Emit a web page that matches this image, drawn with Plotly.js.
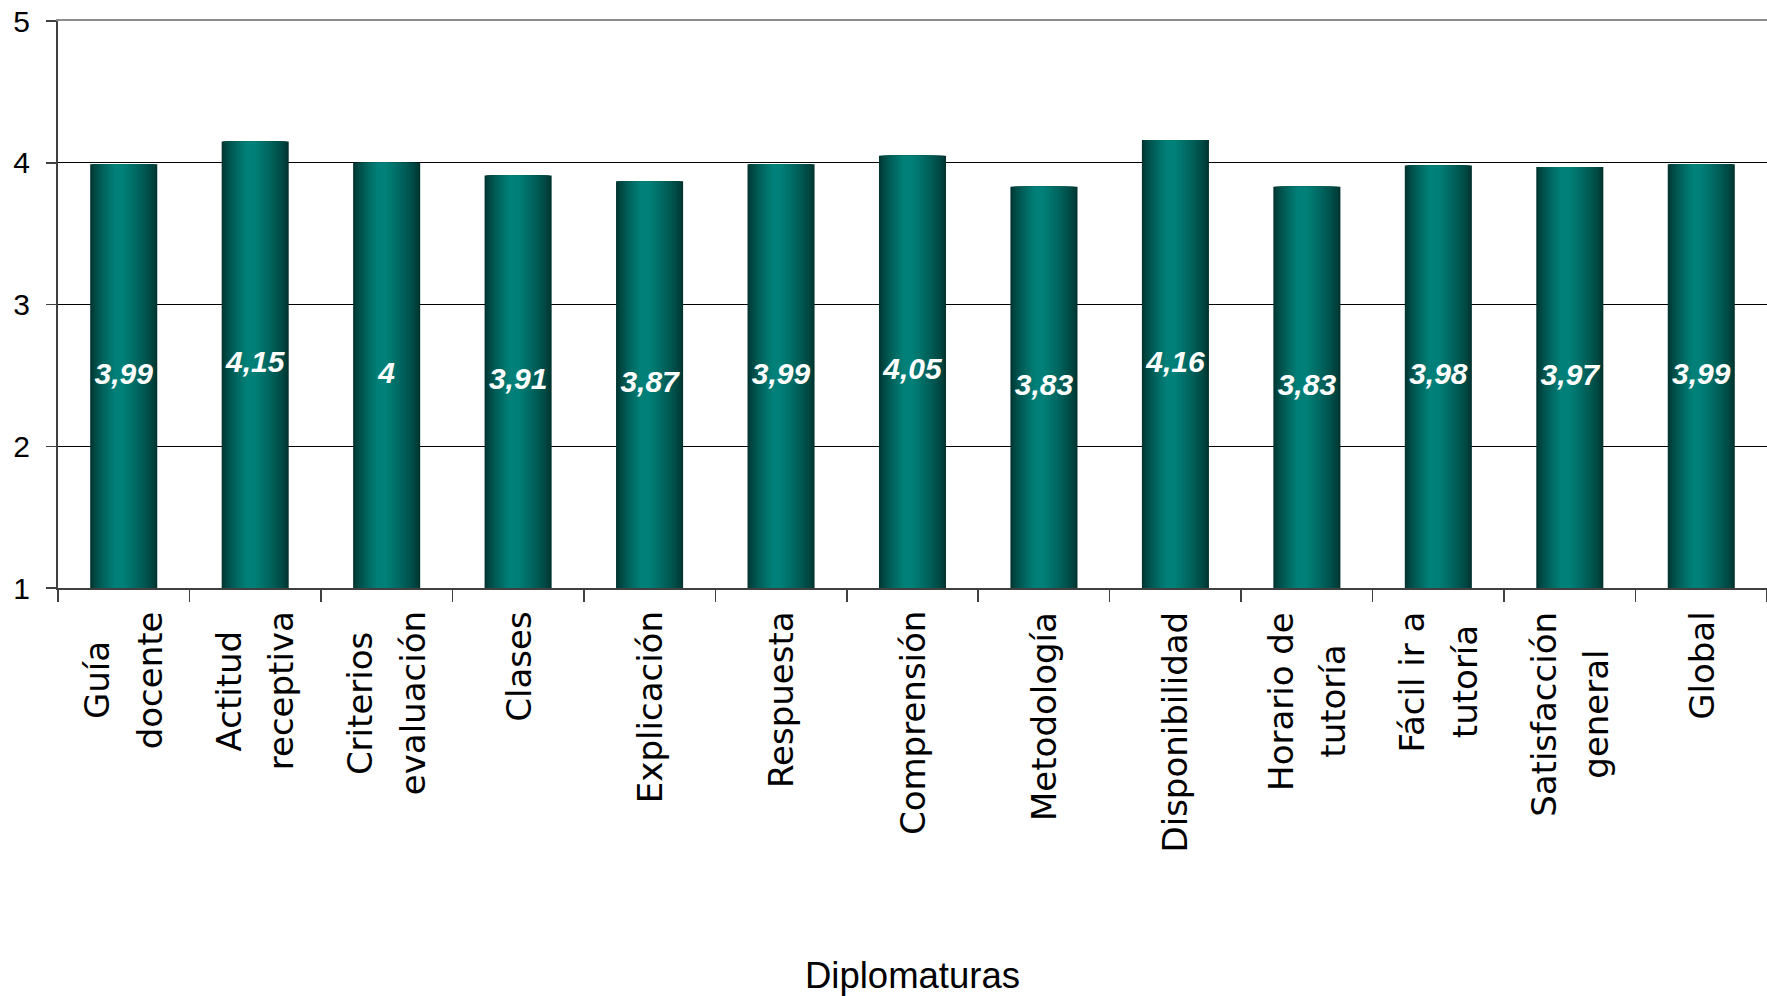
<!DOCTYPE html>
<html>
<head>
<meta charset="utf-8">
<script src="https://cdn.plot.ly/plotly-3.0.1.min.js"></script>
<style>html,body{margin:0;padding:0;background:#fff;}#chart{width:1767px;height:996px;}</style>
</head>
<body>
<div id="chart"></div>
<script>
// ---- data ----
const categories = ["Guía<br>docente", "Actitud<br>receptiva", "Criterios<br>evaluación", "Clases", "Explicación", "Respuesta", "Comprensión", "Metodología", "Disponibilidad", "Horario de<br>tutoría", "Fácil ir a<br>tutoría", "Satisfacción<br>general", "Global"];
const values = [3.99, 4.15, 4, 3.91, 3.87, 3.99, 4.05, 3.83, 4.16, 3.83, 3.98, 3.97, 3.99];
const yTickValues = [1, 2, 3, 4, 5];
const yTickLabels = ["1", "2", "3", "4", "5"];
const axisTitle = "Diplomaturas";

// ---- styling helpers ----
const valueText = values.map(v => String(v).replace('.', ','));
const barWidth = 0.51;
const edgeColor = [0, 52, 48];
const centerColor = [0, 128, 120];
const peak = 0.42;
const layers = 20;

const traces = [];
for (let k = 0; k < layers; k++) {
  const t = (k / layers) * 0.95;
  const left = peak * t;
  const right = 1 - (1 - peak) * t;
  const s = Math.min(1, t / 0.85);
  const e = Math.pow(s, 0.75);
  const c = edgeColor.map((ec, i) => Math.round(ec + (centerColor[i] - ec) * e));
  traces.push({
    type: 'bar',
    x: categories,
    y: values,
    width: barWidth * (right - left),
    offset: -barWidth / 2 + barWidth * left,
    marker: {color: 'rgb(' + c.join(',') + ')', line: {width: 0}},
    showlegend: false,
    hoverinfo: k === 0 ? 'y' : 'skip',
    name: 'Diplomaturas'
  });
}

// value labels in the middle of the visible part of each bar
traces.push({
  type: 'scatter',
  mode: 'text',
  x: categories,
  y: values.map(v => (v + yTickValues[0]) / 2),
  text: valueText,
  textposition: 'middle center',
  textfont: {family: 'Liberation Sans, Arial, sans-serif', size: 30, color: '#ffffff', weight: 'bold', style: 'italic'},
  showlegend: false,
  hoverinfo: 'skip',
  cliponaxis: false
});

// category labels: rotated, one annotation per line, lines centred on each other
const labelFontSize = 34;
const labelFont = 'DejaVu Sans';
const lineGap = 52;
const ctx = document.createElement('canvas').getContext('2d');
ctx.font = labelFontSize + 'px "' + labelFont + '"';
const annotations = [];
categories.forEach(cat => {
  const lines = cat.split('<br>');
  const widths = lines.map(l => ctx.measureText(l).width);
  const maxW = Math.max.apply(null, widths);
  lines.forEach((line, i) => {
    annotations.push({
      x: cat,
      xref: 'x',
      y: -0.038,
      yref: 'paper',
      text: line,
      showarrow: false,
      textangle: -90,
      xanchor: 'center',
      yanchor: 'top',
      xshift: (i - (lines.length - 1) / 2) * lineGap,
      yshift: -(maxW - widths[i]) / 2,
      font: {family: labelFont + ', sans-serif', size: labelFontSize, color: '#000000'}
    });
  });
});

const layout = {
  width: 1767,
  height: 996,
  margin: {l: 58, r: 0, t: 21, b: 408},
  paper_bgcolor: '#ffffff',
  plot_bgcolor: '#ffffff',
  barmode: 'overlay',
  showlegend: false,
  xaxis: {
    type: 'category',
    categoryorder: 'array',
    categoryarray: categories,
    range: [-0.5, categories.length - 0.5],
    tickson: 'boundaries',
    ticks: 'outside',
    ticklen: 12,
    tickwidth: 1.5,
    tickcolor: '#404040',
    showticklabels: false,
    showline: true,
    linecolor: '#404040',
    linewidth: 2,
    showgrid: false,
    zeroline: false,
    title: {text: axisTitle, font: {family: 'Liberation Sans, Arial, sans-serif', size: 36.5, color: '#000000'}, standoff: 375},
    automargin: false
  },
  xaxis2: {
    overlaying: 'x',
    side: 'top',
    showline: true,
    linecolor: '#8c8c8c',
    linewidth: 2.5,
    ticks: '',
    showticklabels: false,
    showgrid: false,
    zeroline: false,
    range: [0, 1]
  },
  yaxis: {
    range: [1, 5],
    tickvals: yTickValues,
    ticktext: yTickLabels,
    ticks: 'outside',
    ticklen: 10,
    tickwidth: 1.5,
    tickcolor: '#404040',
    ticklabelstandoff: 10,
    tickfont: {family: 'Liberation Sans, Arial, sans-serif', size: 30, color: '#000000'},
    showline: true,
    linecolor: '#404040',
    linewidth: 2,
    showgrid: true,
    gridcolor: '#000000',
    gridwidth: 1.2,
    zeroline: false,
    automargin: false
  },
  annotations: annotations
};

// empty trace on the top axis so that the top border line is drawn
traces.push({type: 'scatter', x: [], y: [], xaxis: 'x2', yaxis: 'y', showlegend: false, hoverinfo: 'skip'});

Plotly.newPlot('chart', traces, layout, {staticPlot: true, displayModeBar: false});
</script>
</body>
</html>
